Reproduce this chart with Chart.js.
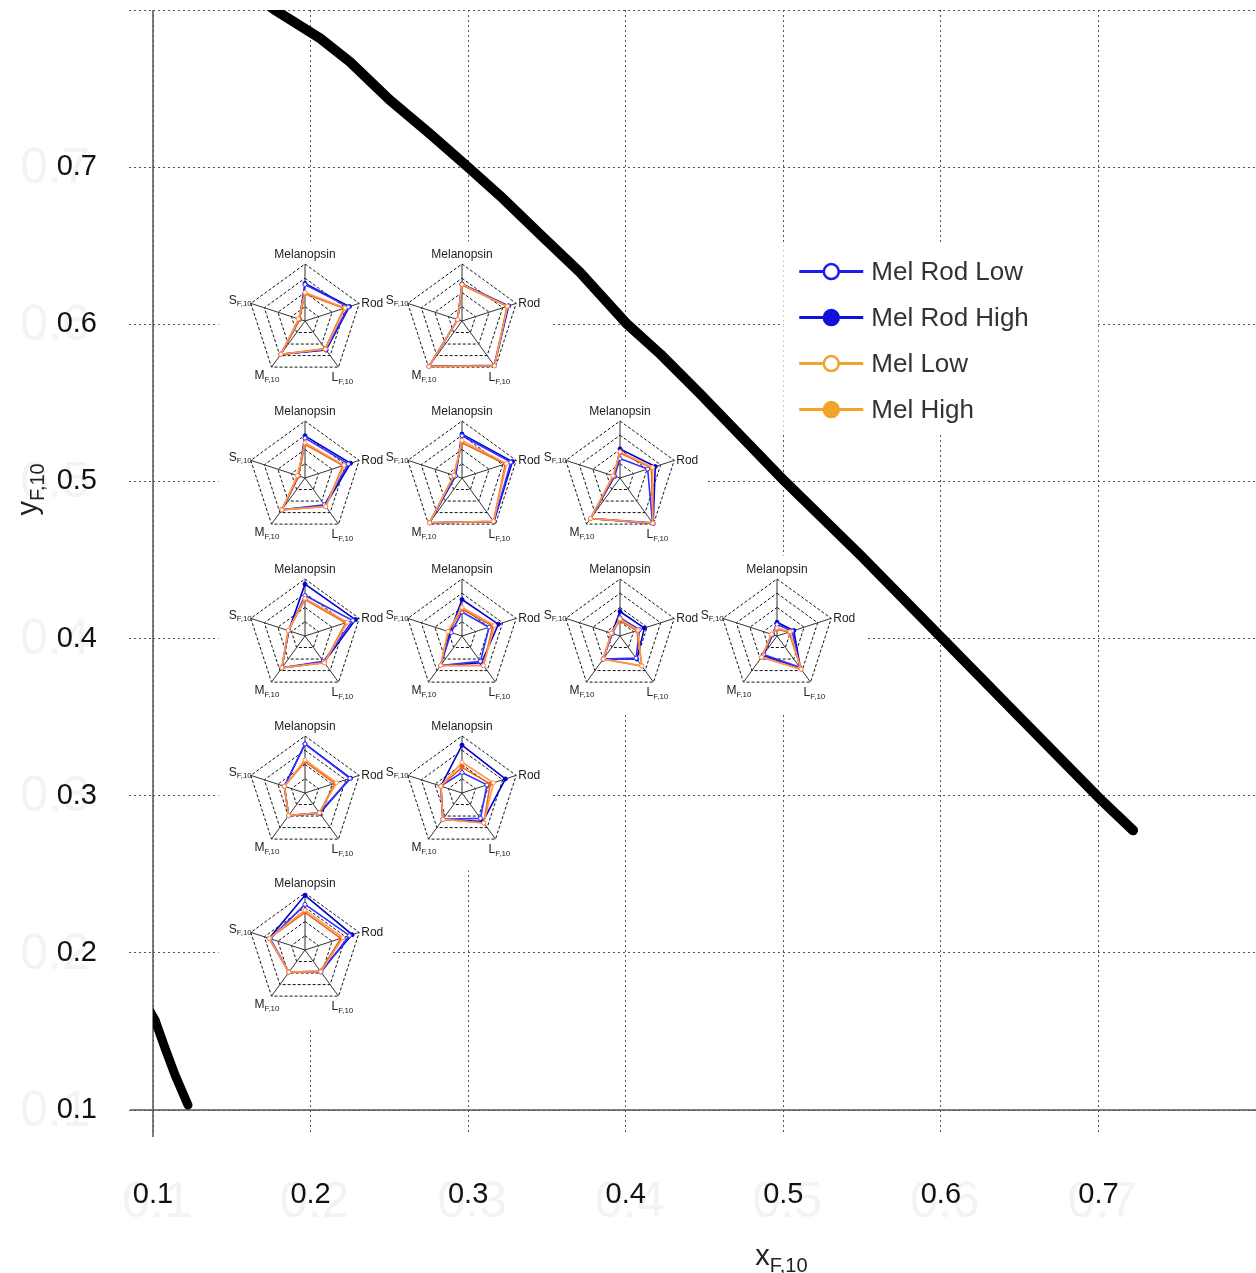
<!DOCTYPE html>
<html>
<head>
<meta charset="utf-8">
<script src="https://cdn.jsdelivr.net/npm/chart.js@4.4.0/dist/chart.umd.min.js"></script>
<style>
  html, body { margin: 0; padding: 0; background: #fff; overflow: hidden; }
  #wrap { position: relative; width: 1256px; height: 1273px; }
  #main { position: absolute; left: 0; top: 0; }
  .radar { position: absolute; }
</style>
</head>
<body>
<div id="wrap"><canvas id="main" width="1256" height="1273"></canvas></div>
<script>
// ---- data ----
const xTickLabels = ['0.1', '0.2', '0.3', '0.4', '0.5', '0.6', '0.7'];
const yTickLabels = ['0.1', '0.2', '0.3', '0.4', '0.5', '0.6', '0.7'];

// boundary of the chromaticity diagram (long-wavelength side)
const locusX = [0.172, 0.1774, 0.206, 0.225, 0.250, 0.276, 0.300, 0.320, 0.349, 0.371, 0.401, 0.422, 0.447, 0.501, 0.549, 0.600, 0.650, 0.700, 0.722];
const locusY = [0.804, 0.800, 0.782, 0.767, 0.743, 0.721, 0.700, 0.682, 0.654, 0.633, 0.600, 0.581, 0.556, 0.500, 0.453, 0.401, 0.350, 0.299, 0.278];
// short-wavelength end, lower left corner
const tailX = [0.098, 0.1013, 0.1076, 0.1140, 0.1222];
const tailY = [0.163, 0.1573, 0.1395, 0.1223, 0.1032];

const seriesNames = ['Mel Rod Low', 'Mel Rod High', 'Mel Low', 'Mel High'];
const axisNames = ['Melanopsin', 'Rod', 'L', 'M', 'S'];
const axisSubs = ['', '', 'F,10', 'F,10', 'F,10'];

// chromaticity of each stimulus (centre of each radar)
const radarX = [0.2, 0.3, 0.2, 0.3, 0.4, 0.2, 0.3, 0.4, 0.5, 0.2, 0.3, 0.2];
const radarY = [0.6, 0.6, 0.5, 0.5, 0.5, 0.4, 0.4, 0.4, 0.4, 0.3, 0.3, 0.2];

// relative excitations [Melanopsin, Rod, L, M, S] per stimulus
const melRodLow = [
  [0.64, 0.80, 0.62, 0.72, 0.10],
  [0.64, 0.85, 0.96, 0.98, 0.08],
  [0.70, 0.80, 0.58, 0.69, 0.12],
  [0.74, 0.90, 0.95, 0.97, 0.12],
  [0.34, 0.51, 0.97, 0.88, 0.10],
  [0.71, 0.88, 0.55, 0.69, 0.30],
  [0.42, 0.50, 0.55, 0.64, 0.20],
  [0.32, 0.36, 0.48, 0.50, 0.14],
  [0.20, 0.28, 0.68, 0.40, 0.08],
  [0.86, 0.83, 0.43, 0.49, 0.38],
  [0.36, 0.46, 0.55, 0.57, 0.39],
  [0.80, 0.82, 0.48, 0.48, 0.64]
];
const melRodHigh = [
  [0.66, 0.82, 0.63, 0.72, 0.10],
  [0.65, 0.86, 0.97, 0.98, 0.08],
  [0.74, 0.84, 0.60, 0.69, 0.12],
  [0.77, 0.93, 0.95, 0.97, 0.12],
  [0.51, 0.65, 0.99, 0.88, 0.10],
  [0.91, 0.93, 0.57, 0.69, 0.30],
  [0.64, 0.67, 0.58, 0.64, 0.22],
  [0.43, 0.45, 0.50, 0.50, 0.15],
  [0.24, 0.31, 0.70, 0.42, 0.08],
  [0.86, 0.84, 0.44, 0.49, 0.38],
  [0.84, 0.80, 0.62, 0.57, 0.39],
  [0.96, 0.87, 0.46, 0.48, 0.66]
];
const melLow = [
  [0.50, 0.74, 0.61, 0.72, 0.12],
  [0.64, 0.84, 0.97, 0.99, 0.08],
  [0.62, 0.72, 0.62, 0.69, 0.14],
  [0.66, 0.82, 0.94, 0.97, 0.15],
  [0.46, 0.60, 0.98, 0.88, 0.13],
  [0.66, 0.78, 0.58, 0.69, 0.31],
  [0.50, 0.60, 0.64, 0.64, 0.26],
  [0.30, 0.33, 0.65, 0.50, 0.16],
  [0.14, 0.24, 0.72, 0.46, 0.10],
  [0.58, 0.58, 0.43, 0.49, 0.38],
  [0.54, 0.58, 0.65, 0.57, 0.39],
  [0.70, 0.70, 0.47, 0.48, 0.66]
];
const melHigh = [
  [0.48, 0.72, 0.60, 0.72, 0.10],
  [0.63, 0.83, 0.97, 0.99, 0.08],
  [0.59, 0.70, 0.62, 0.69, 0.12],
  [0.62, 0.80, 0.94, 0.97, 0.15],
  [0.44, 0.58, 0.98, 0.88, 0.12],
  [0.64, 0.75, 0.58, 0.69, 0.31],
  [0.47, 0.57, 0.64, 0.64, 0.25],
  [0.27, 0.31, 0.65, 0.50, 0.16],
  [0.12, 0.22, 0.72, 0.46, 0.10],
  [0.55, 0.55, 0.43, 0.49, 0.38],
  [0.45, 0.52, 0.65, 0.57, 0.39],
  [0.66, 0.66, 0.46, 0.48, 0.66]
];
const seriesValues = [melRodLow, melRodHigh, melLow, melHigh];

// ---- styles ----
const FONT = '"Liberation Sans", Arial, sans-serif';
const radarColors = ['#3030ff', '#0000cc', '#ff9550', '#f06410'];
const legendColors = ['#1c1cf0', '#1010e0', '#f0a428', '#f0a428'];
const seriesFilled = [false, true, false, true];
const seriesOrder = [2, 2, 1, 1];

// radar geometry (pixels)
const RW = 180, RH = 164;            // canvas size
const RCX = 90, RCY = 83;            // centre inside canvas
const RR = 57;                       // outer radius
const SHIFT_X = -6, SHIFT_Y = -3;    // radar centre relative to its chromaticity point
const BOX = { l: 86, r: 88, t: 80, b: 78 };

function radarCentre(chart, k) {
  return {
    x: chart.scales.x.getPixelForValue(radarX[k]) + SHIFT_X,
    y: chart.scales.y.getPixelForValue(radarY[k]) + SHIFT_Y
  };
}

function textWithSub(ctx, x, y, main, sub, size, align, color) {
  const subSize = Math.round(size * 0.68);
  ctx.font = size + 'px ' + FONT;
  const w1 = ctx.measureText(main).width;
  ctx.font = subSize + 'px ' + FONT;
  const w2 = sub ? ctx.measureText(sub).width : 0;
  const total = w1 + w2;
  const x0 = align === 'center' ? x - total / 2 : (align === 'right' ? x - total : x);
  ctx.fillStyle = color;
  ctx.textAlign = 'left';
  ctx.textBaseline = 'alphabetic';
  ctx.font = size + 'px ' + FONT;
  ctx.fillText(main, x0, y + size * 0.36);
  if (sub) {
    ctx.font = subSize + 'px ' + FONT;
    ctx.fillText(sub, x0 + w1, y + size * 0.36 + size * 0.22);
  }
}

// white panels under the radars, faint duplicate tick numbers, axis lines, titles, legend
const mainDecor = {
  id: 'mainDecor',
  beforeDraw(chart) {
    const ctx = chart.ctx, xs = chart.scales.x, ys = chart.scales.y;
    ctx.save();
    ctx.fillStyle = '#fff';
    ctx.fillRect(0, 0, chart.width, chart.height);
    ctx.fillStyle = '#f3f3f3';
    ctx.font = '50px ' + FONT;
    ctx.textAlign = 'center';
    ctx.textBaseline = 'middle';
    yTickLabels.forEach((t, i) => ctx.fillText(t, 55, ys.getPixelForValue(0.1 + i * 0.1) + 2));
    xTickLabels.forEach((t, i) => ctx.fillText(t, xs.getPixelForValue(0.1 + i * 0.1) + 4, 1203));
    ctx.restore();
  },
  beforeDatasetsDraw(chart) {
    const ctx = chart.ctx;
    ctx.save();
    ctx.fillStyle = '#fff';
    radarX.forEach((_, k) => {
      const c = radarCentre(chart, k);
      ctx.fillRect(c.x - BOX.l, c.y - BOX.t, BOX.l + BOX.r, BOX.t + BOX.b);
    });
    // solid axis lines
    const a = chart.chartArea;
    ctx.strokeStyle = '#555';
    ctx.lineWidth = 1.5;
    ctx.setLineDash([]);
    ctx.beginPath();
    ctx.moveTo(a.left, a.top);
    ctx.lineTo(a.left, a.bottom + 27);
    ctx.moveTo(a.left - 23, a.bottom);
    ctx.lineTo(a.right, a.bottom);
    ctx.stroke();
    ctx.restore();
  },
  afterDraw(chart) {
    const ctx = chart.ctx, xs = chart.scales.x, ys = chart.scales.y;
    ctx.save();
    // axis titles
    textWithSub(ctx, xs.getPixelForValue(0.5) - 28, 1255, 'x', 'F,10', 29, 'left', '#222');
    ctx.translate(27, ys.getPixelForValue(0.5) + 8);
    ctx.rotate(-Math.PI / 2);
    textWithSub(ctx, 0, 0, 'y', 'F,10', 29, 'center', '#222');
    ctx.restore();

    // legend
    ctx.save();
    const lx = xs.getPixelForValue(0.5), ly = ys.getPixelForValue(0.652);
    ctx.fillStyle = '#fff';
    ctx.fillRect(lx, ly, 315, 190);
    seriesNames.forEach((name, i) => {
      const y = ly + 29 + i * 46;
      ctx.strokeStyle = legendColors[i];
      ctx.lineWidth = 3;
      ctx.beginPath();
      ctx.moveTo(lx + 16, y);
      ctx.lineTo(lx + 80, y);
      ctx.stroke();
      ctx.beginPath();
      ctx.arc(lx + 48, y, 7.5, 0, Math.PI * 2);
      ctx.fillStyle = seriesFilled[i] ? legendColors[i] : '#fff';
      ctx.fill();
      ctx.lineWidth = 2.5;
      ctx.stroke();
      ctx.fillStyle = '#333';
      ctx.font = '26px ' + FONT;
      ctx.textAlign = 'left';
      ctx.textBaseline = 'middle';
      ctx.fillText(name, lx + 88, y + 1);
    });
    ctx.restore();
  }
};

const gridDash = [2, 3];
const main = new Chart(document.getElementById('main'), {
  type: 'scatter',
  data: {
    datasets: [
      {
        data: locusX.map((x, i) => ({ x, y: locusY[i] })),
        showLine: true, borderColor: '#000', borderWidth: 10,
        pointRadius: 0, borderCapStyle: 'round', borderJoinStyle: 'round'
      },
      {
        data: tailX.map((x, i) => ({ x, y: tailY[i] })),
        showLine: true, borderColor: '#000', borderWidth: 9,
        pointRadius: 0, borderCapStyle: 'round', borderJoinStyle: 'round'
      }
    ]
  },
  options: {
    responsive: false,
    animation: false,
    devicePixelRatio: 1,
    layout: { padding: { top: 10, right: 0, left: 0, bottom: 0 } },
    plugins: { legend: { display: false }, tooltip: { enabled: false } },
    scales: {
      x: {
        type: 'linear', min: 0.1, max: 0.8,
        ticks: {
          stepSize: 0.1, autoSkip: false, maxRotation: 0, padding: 44,
          color: '#111', font: { family: FONT, size: 29 },
          callback: (v, i) => xTickLabels[i] ?? ''
        },
        grid: { color: '#555', lineWidth: 1, tickLength: 24, tickColor: '#555', tickBorderDash: gridDash },
        border: { display: false, dash: gridDash },
        afterFit: s => { s.height = 163; s.paddingLeft = 0; s.paddingRight = 0; }
      },
      y: {
        type: 'linear', min: 0.1, max: 0.8,
        ticks: {
          stepSize: 0.1, autoSkip: false, padding: 32,
          color: '#111', font: { family: FONT, size: 29 },
          callback: (v, i) => yTickLabels[i] ?? ''
        },
        grid: { color: '#555', lineWidth: 1, tickLength: 24, tickColor: '#555', tickBorderDash: gridDash },
        border: { display: false, dash: gridDash },
        afterFit: s => { s.width = 153; s.paddingTop = 0; s.paddingBottom = 0; }
      }
    }
  },
  plugins: [mainDecor]
});

// axis names around each radar
const radarLabels = {
  id: 'radarLabels',
  afterDraw(chart) {
    const r = chart.scales.r, ctx = chart.ctx;
    ctx.save();
    axisNames.forEach((name, i) => {
      const p = r.getPointPosition(i, r.drawingArea);
      let x = p.x, y = p.y, align = 'left';
      if (i === 0) { y -= 10; align = 'center'; }
      else if (i === 1) { x += 2; y -= 1; }
      else if (i === 2) { x -= 7; y += 10; }
      else if (i === 3) { x += 8; y += 8; align = 'right'; }
      else { x += 1; y -= 4; align = 'right'; }
      textWithSub(ctx, x, y, name, axisSubs[i], 12, align, '#222');
    });
    ctx.restore();
  }
};

const wrap = document.getElementById('wrap');
radarX.forEach((_, k) => {
  const c = radarCentre(main, k);
  const cv = document.createElement('canvas');
  cv.width = RW; cv.height = RH; cv.className = 'radar';
  cv.style.left = Math.round(c.x - RCX) + 'px';
  cv.style.top = Math.round(c.y - RCY) + 'px';
  wrap.appendChild(cv);
  new Chart(cv, {
    type: 'radar',
    data: {
      labels: axisNames,
      datasets: seriesNames.map((name, s) => ({
        label: name,
        data: seriesValues[s][k],
        borderColor: radarColors[s],
        backgroundColor: 'rgba(0,0,0,0)',
        borderWidth: 1.6,
        fill: false,
        pointRadius: 2,
        pointBorderWidth: 1,
        pointBorderColor: radarColors[s],
        pointBackgroundColor: seriesFilled[s] ? radarColors[s] : '#fff',
        order: seriesOrder[s]
      }))
    },
    options: {
      responsive: false,
      animation: false,
      devicePixelRatio: 1,
      layout: { padding: { left: RCX - RR, right: RW - RCX - RR, top: RCY - RR, bottom: RH - RCY - RR - 1 } },
      plugins: { legend: { display: false }, tooltip: { enabled: false } },
      scales: {
        r: {
          min: 0, max: 1,
          ticks: { stepSize: 0.25, display: false },
          pointLabels: { display: false },
          grid: { color: '#111', lineWidth: 1 },
          border: { dash: [3, 2] },
          angleLines: { color: '#333', lineWidth: 1 }
        }
      }
    },
    plugins: [radarLabels]
  });
});
</script>
</body>
</html>
